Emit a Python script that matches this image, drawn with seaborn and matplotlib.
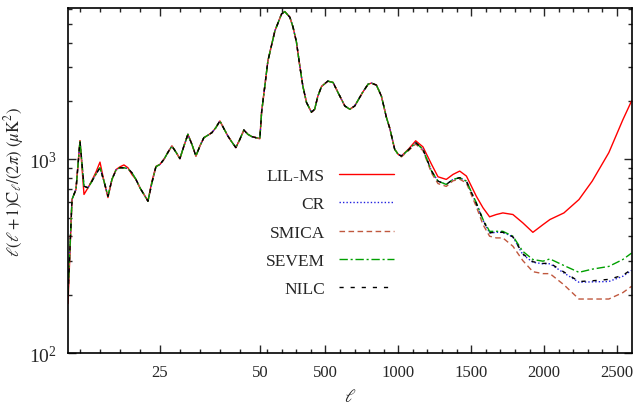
import numpy as np
import pandas as pd
import seaborn as sns
import matplotlib.pyplot as plt

# multipoles, low-ell part (ell = 2..50)
ell_low = list(range(2, 51))
dl_low_maps = [200, 621, 700, 1244, 727, 713, 772, 840, 905, 772, 645, 788, 880, 905, 905,
               896, 853, 788, 713, 659, 608, 758, 916, 942, 1000, 1087, 1172, 1091, 1008, 1172,
               1347, 1196, 1040, 1172, 1295, 1332, 1374, 1459, 1579, 1442, 1320, 1229, 1150, 1269,
               1418, 1347, 1311, 1295, 1279]
dl_low_lilms = [180, 621, 700, 1250, 659, 713, 780, 860, 968, 772, 635, 788, 885, 915, 936,
                905, 835, 788, 713, 659, 610, 770, 920, 942, 1000, 1087, 1172, 1091, 1008, 1172,
                1347, 1196, 1040, 1172, 1295, 1332, 1374, 1459, 1579, 1442, 1320, 1229, 1150, 1269,
                1418, 1347, 1311, 1295, 1279]

# acoustic peak region, same for every method
ell_mid = [62, 84, 105, 153, 199, 221, 256, 278, 301, 324, 345, 370, 404, 426, 448, 473, 516,
           552, 585, 633, 667, 701, 756, 793, 816, 850, 884, 918, 941, 975, 1000]
dl_mid = [1752, 2389, 3219, 4604, 5640, 5798, 5420, 4807, 4037, 3040, 2389, 1968, 1752, 1815,
          2120, 2379, 2535, 2497, 2224, 1887, 1815, 1887, 2224, 2447, 2476, 2418, 2120, 1650,
          1450, 1127, 1060]

# high-ell part, where the methods differ
ell_high = [1021, 1070, 1119, 1169, 1228, 1272, 1329, 1375, 1421, 1467, 1535, 1581, 1626, 1672,
            1717, 1786, 1854, 1923, 1992, 2040, 2136, 2239, 2330, 2444, 2540, 2600]
dl_lilms = [1040, 1130, 1247, 1160, 942, 813, 788, 836, 870, 820, 645, 562, 505, 519,
            529, 519, 470, 420, 460, 489, 529, 620, 772, 1083, 1600, 2003]
dl_cr = [1040, 1120, 1220, 1127, 870, 772, 742, 788, 804, 772, 590, 485, 417, 420,
         420, 398, 322, 294, 289, 289, 259, 232, 233, 234, 249, 267]
dl_smica = [1030, 1110, 1200, 1110, 850, 750, 725, 775, 790, 755, 570, 460, 401, 393,
            393, 356, 300, 263, 257, 257, 225, 190, 190, 190, 205, 221]
dl_sevem = [1040, 1120, 1220, 1127, 870, 772, 742, 788, 804, 772, 597, 489, 425, 425,
            425, 401, 335, 304, 298, 306, 283, 261, 271, 280, 304, 328]
dl_nilc = [1040, 1120, 1220, 1127, 870, 772, 742, 788, 804, 772, 592, 485, 418, 420,
           420, 398, 325, 296, 290, 291, 262, 234, 236, 240, 252, 270]

labels = ['LIL-MS', 'CR', 'SMICA', 'SEVEM', 'NILC']
colors = ['#ff0000', '#2020e0', '#c0583e', '#00a000', '#000000']
styles = ['-', (0, (1, 1.5)), (0, (4, 2.5)), (0, (6, 2, 1.5, 2)), (0, (3, 5))]

series = {
    'LIL-MS': dl_low_lilms + dl_mid + dl_lilms,
    'CR': dl_low_maps + dl_mid + dl_cr,
    'SMICA': dl_low_maps + dl_mid + dl_smica,
    'SEVEM': dl_low_maps + dl_mid + dl_sevem,
    'NILC': dl_low_maps + dl_mid + dl_nilc,
}
ell = ell_low + ell_mid + ell_high

sns.set_style('ticks')
plt.rcParams['font.family'] = ['Liberation Serif', 'DejaVu Serif']
plt.rcParams['mathtext.fontset'] = 'stix'

fig = plt.figure(figsize=(6.39, 4.06), dpi=100)
ax = fig.add_axes([68 / 639, 1 - 354 / 406, 564 / 639, 345 / 406])


# linear in ell up to 50, then a compressed linear part
def fwd(l):
    l = np.asarray(l, float)
    return np.where(l <= 50, (l - 2) * 4.0, 192 + (l - 50) * 372 / 2550)


def inv(u):
    u = np.asarray(u, float)
    return np.where(u <= 192, 2 + u / 4.0, 50 + (u - 192) * 2550 / 372)


ax.set_xscale('function', functions=(fwd, inv))
ax.set_yscale('log')

for lab, col, ls in zip(labels, colors, styles):
    df = pd.DataFrame({'ell': ell, 'dl': series[lab]})
    sns.lineplot(data=df, x='ell', y='dl', ax=ax, color=col, linestyle=ls,
                 linewidth=1.0, label=lab, sort=True)

ax.set_xlim(2, 2603)
ax.set_ylim(100, 6050)
ax.set_xticks([25, 50, 500, 1000, 1500, 2000, 2500])
ax.set_xticklabels(['25', '50', '500', '1000', '1500', '2000', '2500'])
minor = [5, 10, 15, 20, 30, 35, 40, 45] + [v for v in range(100, 2600, 100) if v % 500 != 0]
ax.set_xticks(minor, minor=True)

ax.tick_params(which='both', direction='in', top=True, right=True, width=1)
ax.tick_params(axis='x', labelsize=12)
ax.tick_params(axis='y', labelsize=14)
ax.tick_params(which='major', length=6, pad=8)
ax.tick_params(which='minor', length=3)
for sp in ax.spines.values():
    sp.set_linewidth(1.2)
    sp.set_color('black')

ax.set_xlabel(r'$\ell$', fontsize=13, labelpad=6)
ax.set_ylabel(r'$\ell(\ell+1)\mathrm{C}_\ell/(2\pi)\ (\mu\mathrm{K}^2)$', fontsize=12, labelpad=2)

ax.legend(loc='upper right', bbox_to_anchor=(0.606, 0.582), frameon=False, markerfirst=False,
          fontsize=12.5, handlelength=3.2, handletextpad=0.8, labelspacing=0.7)

fig.savefig('out.png', dpi=100)
